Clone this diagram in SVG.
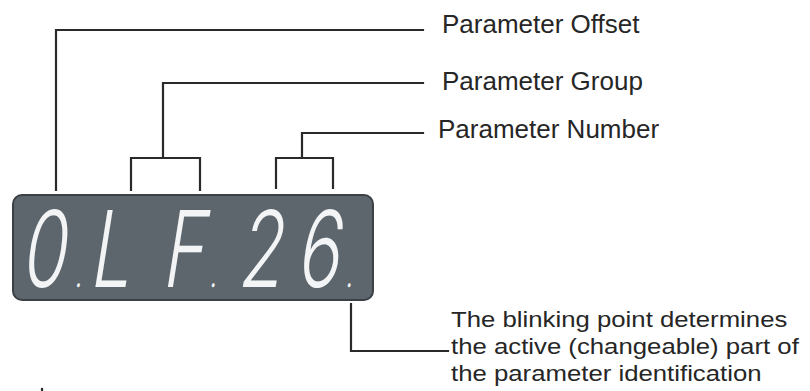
<svg xmlns="http://www.w3.org/2000/svg" width="810" height="391" viewBox="0 0 810 391">
<style>
.lbl{font-family:"Liberation Sans",Arial,sans-serif;font-size:26px;fill:#262626}
.bl{font-family:"Liberation Sans",Arial,sans-serif;font-size:23px;fill:#262626}
.ln{fill:none;stroke:#2a2a2a;stroke-width:2.2;stroke-linecap:square}
.seg{font-family:Inter,Roboto,"DejaVu Sans",sans-serif;font-weight:300;fill:#f2f4f5;text-anchor:middle}
</style>
<rect width="810" height="391" fill="#ffffff"/>
<g id="connectors">
<path class="ln" d="M56,190 V30 H423"/>
<path class="ln" d="M131,190 V158 H200 V190 M163,158 V83 H423"/>
<path class="ln" d="M276,188 V158 H333 V188 M302,158 V133 H423"/>
<path class="ln" d="M351,304 V351 H448"/>
<path class="ln" d="M42,389 V390" stroke-width="3"/>
</g>
<g id="display">
<rect x="13" y="195" width="360" height="105" rx="9" fill="#5e666d" stroke="#3b4045" stroke-width="2"/>
<text class="seg" transform="translate(0,287) skewX(-9) scale(0.68,1)" font-size="106"><tspan x="62" y="0">0</tspan><tspan x="115" y="0" font-size="38">.</tspan><tspan x="160" y="0">L</tspan><tspan x="268" y="0">F</tspan><tspan x="313" y="0" font-size="38">.</tspan><tspan x="381" y="0">2</tspan><tspan x="466" y="0">6</tspan><tspan x="513" y="0" font-size="38">.</tspan></text>
</g>
<g id="label-offset"><text class="lbl" x="442" y="33">Parameter Offset</text></g>
<g id="label-group"><text class="lbl" x="442" y="90">Parameter Group</text></g>
<g id="label-number"><text class="lbl" x="438" y="138">Parameter Number</text></g>
<g id="label-blink" transform="translate(451,0) scale(1.12,1)">
<text class="bl" x="0" y="327">The blinking point determines</text>
<text class="bl" x="0" y="354">the active (changeable) part of</text>
<text class="bl" x="0" y="381">the parameter identification</text>
</g>
</svg>
